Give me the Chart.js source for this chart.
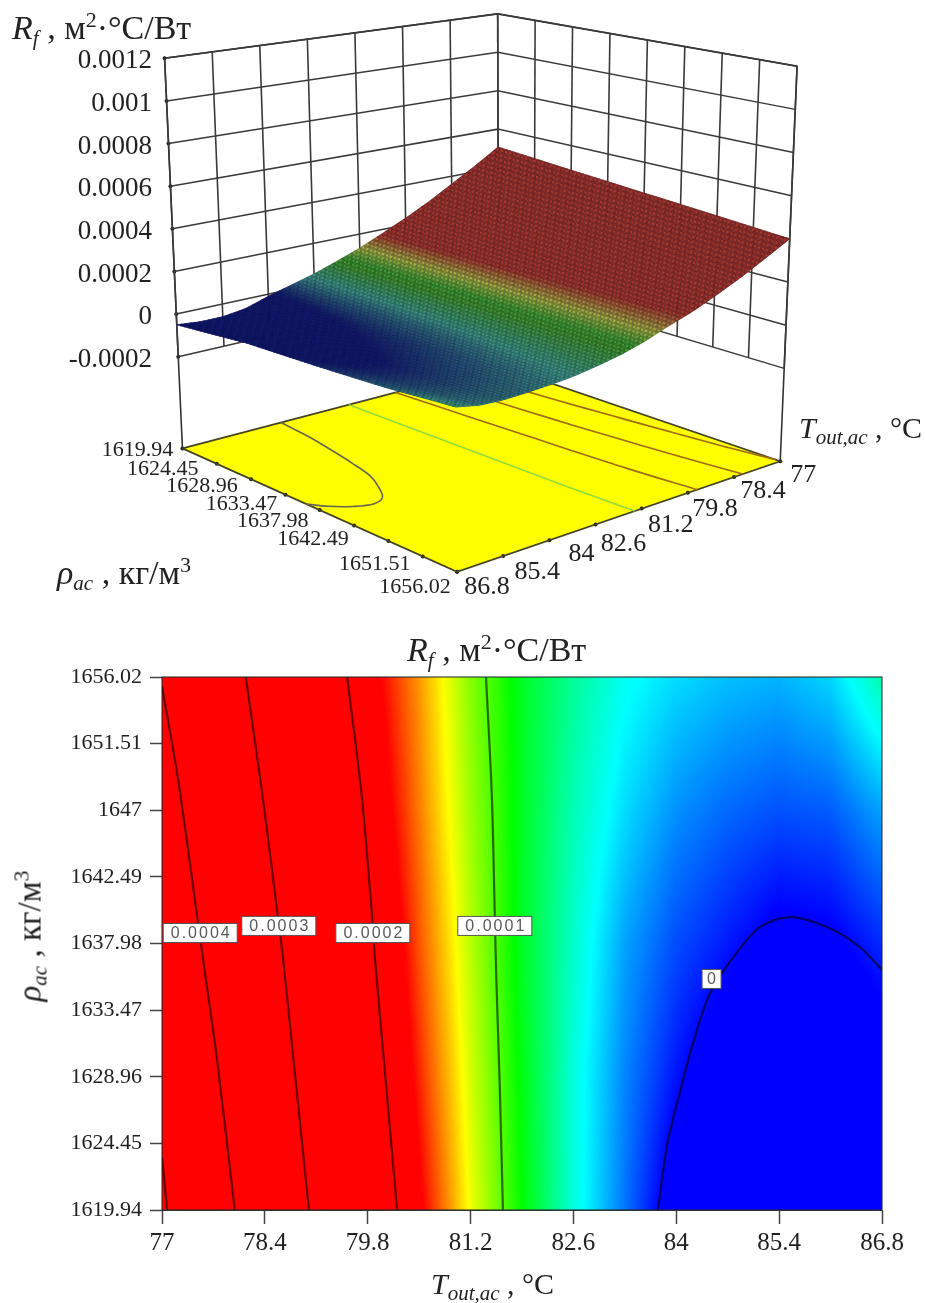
<!DOCTYPE html>
<html>
<head>
<meta charset="utf-8">
<script src="https://cdn.jsdelivr.net/npm/chart.js@4/dist/chart.umd.min.js"></script>
<style>
  html, body { margin: 0; padding: 0; background: #fff; }
  #page { position: relative; width: 925px; height: 1303px; overflow: hidden; font-family: "Liberation Serif", serif; color: #222; }
  canvas { position: absolute; left: 0; }
  #c3d { top: 0; }
  #cmap { top: 640px; }
  .lbl { position: absolute; white-space: nowrap; font-size: 34px; line-height: 1; }
  .lbl i { font-style: italic; }
  .lbl sub { font-size: 21px; line-height: 0; font-style: italic; vertical-align: -6px; }
  .lbl sup { font-size: 22px; line-height: 0; vertical-align: 12px; }
</style>
</head>
<body>
<div id="page">
  <canvas id="c3d" width="925" height="640"></canvas>
  <canvas id="cmap" width="925" height="663"></canvas>
  <div class="lbl" style="left:12px;top:11px"><i>R</i><sub>f</sub> , м<sup>2</sup>·°C/Вт</div>
  <div class="lbl" style="left:799px;top:413px;font-size:30px"><i>T</i><sub>out,ac</sub> , °C</div>
  <div class="lbl" style="left:57px;top:556px"><i>ρ</i><sub>ac</sub> , кг/м<sup>3</sup></div>
  <div class="lbl" style="left:407px;top:633px"><i>R</i><sub>f</sub> , м<sup>2</sup>·°C/Вт</div>
  <div class="lbl" style="left:431px;top:1269px;font-size:30px"><i>T</i><sub>out,ac</sub> , °C</div>
  <div class="lbl" style="left:30px;top:936px;font-size:33px;transform:translate(-50%,-50%) rotate(-90deg)"><i>ρ</i><sub>ac</sub> , кг/м<sup>3</sup></div>
</div>
<script>
// axes
var tempTicks = [77, 78.4, 79.8, 81.2, 82.6, 84, 85.4, 86.8];
var rhoTicks = [1619.94, 1624.45, 1628.96, 1633.47, 1637.98, 1642.49, 1647, 1651.51, 1656.02];
var zTicks = [-0.0002, 0, 0.0002, 0.0004, 0.0006, 0.0008, 0.001, 0.0012];
var rhoLabels3d = [1619.94, 1624.45, 1628.96, 1633.47, 1637.98, 1642.49, 1651.51, 1656.02];
var zBottom = -0.00063, zTop = 0.0012;

// Rf, one array per density row
var gridTemp = [77, 77.7, 78.4, 79.1, 79.8, 80.5, 81.2, 81.9, 82.6, 83.3, 84, 84.7, 85.4, 86.1, 86.8];
var gridRho = [1619.94, 1628.96, 1637.98, 1647, 1656.02];
var rf1619 = [0.000507, 0.00043, 0.00036, 0.000292, 0.000233, 0.00018, 0.00013, 0.000088, 0.00005, 0.00002, -0.00001, -0.000045, -0.00006, -0.00006, -0.00005];
var rf1628 = [0.000477, 0.000407, 0.00034, 0.000278, 0.00022, 0.00017, 0.000125, 0.000085, 0.00005, 0.000023, 0.000003, -0.000012, -0.000022, -0.00002, -0.00001];
var rf1637 = [0.00045, 0.000387, 0.00032, 0.000263, 0.000208, 0.000162, 0.00012, 0.000082, 0.000053, 0.000028, 0.000013, 0.000004, -0.000005, -0.000003, 0.000007];
var rf1647 = [0.000425, 0.00036, 0.0003, 0.000246, 0.000195, 0.000155, 0.000115, 0.000082, 0.000057, 0.000038, 0.000025, 0.000018, 0.000014, 0.000016, 0.000028];
var rf1656 = [0.0004, 0.000339, 0.000281, 0.000231, 0.000185, 0.00015, 0.000111, 0.000082, 0.000062, 0.000046, 0.000038, 0.000033, 0.000031, 0.000037, 0.000058];
var gridRows = [rf1619, rf1628, rf1637, rf1647, rf1656];

// contour lines
var c5T = [77, 77.07], c5R = [1623.53, 1619.94];
var c4T = [77, 77.22, 77.48, 77.56, 77.75, 77.99], c4R = [1655.4, 1649.05, 1639.77, 1636.86, 1630.09, 1619.94];
var c3T = [78.14, 78.37, 78.57, 78.65, 78.78, 79], c3R = [1656.02, 1647.9, 1640.05, 1636.86, 1630.57, 1619.94];
var c2T = [79.52, 79.72, 79.86, 79.9, 80.04, 80.2], c2R = [1656.02, 1647.9, 1639.77, 1636.86, 1628.94, 1619.94];
var c1T = [81.41, 81.49, 81.53, 81.55, 81.6, 81.64], c1R = [1656.02, 1647.9, 1639.77, 1635.71, 1627.86, 1619.94];
var c0T = [83.75, 83.87, 84.01, 84.23, 84.46, 84.77, 85.14, 85.55, 86.05, 86.5, 86.8];
var c0R = [1619.94, 1624.2, 1627.18, 1631.25, 1634.63, 1637, 1639.1, 1639.77, 1639.1, 1637.74, 1636.19];
var contourT = [c5T, c4T, c3T, c2T, c1T, c0T];
var contourR = [c5R, c4R, c3R, c2R, c1R, c0R];
var baseContourColors = ['#a06a10', '#a06a10', '#a06a10', '#a06a10', '#8fdc3c', '#666650'];

var labelText = ['0.0004', '0.0003', '0.0002', '0.0001', '0'];
var labelT = [77.52, 78.59, 79.87, 81.53, 84.48];
var labelR = [1638.69, 1639.17, 1638.69, 1639.17, 1635.58];

// where the upper chart's tick labels sit relative to their ticks
var rhoNudgeX = [-45, -54, -49, -44, -47, -41, -48, -42];
var rhoNudgeY = [2, 5, 7, 10, 11, 14, 8, 15];
var tempNudgeX = [23, 29, 27, 29, 28, 32, 34, 30];
var tempNudgeY = [14, 14, 16, 17, 20, 14, 16, 15];

var SERIF = '"Liberation Serif", serif';

function zip(xs, ys) {
    return xs.map(function (x, i) { return { x: x, y: ys[i] }; });
}

// bilinear shading between the values
function rfAt(t, r) {
    var i = 0, j = 0;
    while (i < gridTemp.length - 2 && t > gridTemp[i + 1]) i++;
    while (j < gridRho.length - 2 && r > gridRho[j + 1]) j++;
    var a = (t - gridTemp[i]) / (gridTemp[i + 1] - gridTemp[i]);
    var b = (r - gridRho[j]) / (gridRho[j + 1] - gridRho[j]);
    var lo = gridRows[j][i] * (1 - a) + gridRows[j][i + 1] * a;
    var hi = gridRows[j + 1][i] * (1 - a) + gridRows[j + 1][i + 1] * a;
    return lo * (1 - b) + hi * b;
}

// blue 0, cyan, green, yellow, red at 0.000176
var rampStops = [[0, 0, 255], [0, 255, 255], [0, 255, 0], [255, 255, 0], [255, 0, 0]];
function rainbow(v) {
    var s = Math.max(0, Math.min(0.999, v / 0.000176)) * 4;
    var k = Math.floor(s), f = s - k;
    var p = rampStops[k], q = rampStops[k + 1];
    return [p[0] + (q[0] - p[0]) * f, p[1] + (q[1] - p[1]) * f, p[2] + (q[2] - p[2]) * f];
}

// camera: base and top planes of the box, z goes linearly between them
function planeOf(q) {
    return function (u, v) {
        var out = [0, 0];
        for (var n = 0; n < 2; n++) {
            out[n] = (q[0][n] * (1 - u) + q[1][n] * u) * (1 - v) + (q[3][n] * (1 - u) + q[2][n] * u) * v;
        }
        return out;
    };
}
var basePlane = planeOf([[180, 450], [499, 366], [783, 463], [457, 575]]);
var topPlane = planeOf([[162, 55], [498, 10], [800, 63], [454, 131]]);

function project(t, r, z) {
    var u = (86.8 - t) / 9.8, v = (r - 1619.94) / 36.08;
    var b = basePlane(u, v), a = topPlane(u, v);
    var k = (z - zBottom) / (zTop - zBottom);
    return { x: b[0] + (a[0] - b[0]) * k, y: b[1] + (a[1] - b[1]) * k };
}

function line3d(pts, color, width, tension) {
    return {
        data: pts, showLine: true, pointRadius: 0, borderColor: color,
        borderWidth: width, tension: tension || 0, parsing: false
    };
}

// walls, floor edges, floor contours
var sets3d = [];
var WALL = '#3a3a3a';
zTicks.forEach(function (z) {
    sets3d.push(line3d([project(86.8, 1619.94, z), project(77, 1619.94, z), project(77, 1656.02, z)], WALL, 1.5));
});
var wallTemp = tempTicks.slice().reverse();
wallTemp.forEach(function (t) {
    sets3d.push(line3d([project(t, 1619.94, -0.0002), project(t, 1619.94, zTop)], WALL, 1.6));
});
rhoTicks.forEach(function (r) {
    sets3d.push(line3d([project(77, r, -0.0002), project(77, r, zTop)], WALL, 1.6));
});
sets3d.push(line3d([project(86.8, 1619.94, zBottom), project(86.8, 1619.94, zTop), project(77, 1619.94, zTop), project(77, 1656.02, zTop), project(77, 1656.02, zBottom)], '#333', 1.6));
contourT.forEach(function (ct, i) {
    var pts = ct.map(function (t, k) { return project(t, contourR[i][k], zBottom); });
    sets3d.push(line3d(pts, baseContourColors[i], 1.6, 0.35));
});
sets3d.push(line3d([project(86.8, 1619.94, zBottom), project(77, 1619.94, zBottom), project(77, 1656.02, zBottom), project(86.8, 1656.02, zBottom), project(86.8, 1619.94, zBottom)], '#444420', 1.7));
// tick dots
var dots = [];
zTicks.forEach(function (z) { dots.push(project(86.8, 1619.94, z)); });
tempTicks.forEach(function (t) { dots.push(project(t, 1656.02, zBottom)); });
rhoTicks.forEach(function (r) { dots.push(project(86.8, r, zBottom)); });
sets3d.push({ data: dots, pointRadius: 2, pointBackgroundColor: '#1c1c1c', pointBorderWidth: 0, parsing: false });

function css(r, g, b) {
    return 'rgb(' + (r | 0) + ',' + (g | 0) + ',' + (b | 0) + ')';
}

var box3dPlugin = {
    id: 'box3d',
    beforeDatasetsDraw: function (chart) {
        var ctx = chart.ctx, sx = chart.scales.x, sy = chart.scales.y;
        var corners = [project(86.8, 1619.94, zBottom), project(77, 1619.94, zBottom), project(77, 1656.02, zBottom), project(86.8, 1656.02, zBottom)];
        ctx.save();
        ctx.fillStyle = '#ffff00';
        ctx.beginPath();
        corners.forEach(function (p, i) {
            var px = sx.getPixelForValue(p.x), py = sy.getPixelForValue(p.y);
            if (i === 0) ctx.moveTo(px, py); else ctx.lineTo(px, py);
        });
        ctx.closePath();
        ctx.fill();
        ctx.restore();
    },
    afterDatasetsDraw: function (chart) {
        var ctx = chart.ctx, sx = chart.scales.x, sy = chart.scales.y;
        var N = 72;
        function node(i, j) {
            var t = 86.8 - 9.8 * i / N, r = 1619.94 + 36.08 * j / N;
            var p = project(t, r, rfAt(t, r));
            return [sx.getPixelForValue(p.x), sy.getPixelForValue(p.y)];
        }
        ctx.save();
        // surface mesh, dark cell with a lighter dot in it
        for (var i = 0; i < N; i++) {
            for (var j = 0; j < N; j++) {
                var a = node(i, j), b = node(i + 1, j), c = node(i + 1, j + 1), d = node(i, j + 1);
                var t = 86.8 - 9.8 * (i + 0.5) / N, r = 1619.94 + 36.08 * (j + 0.5) / N;
                var col = rainbow(rfAt(t, r));
                var k = (i + j) % 2 ? 0.92 : 1.06;
                var dark = css(
                    Math.max(col[0] * 0.42 + 15, col[1] * 0.12 + 15) * k,
                    (col[1] * 0.36 + 18 + col[0] * 0.08) * k,
                    (col[2] * 0.3 + 18 + col[0] * 0.08 + col[1] * 0.06) * k);
                ctx.fillStyle = dark;
                ctx.strokeStyle = dark;
                ctx.lineWidth = 0.8;
                ctx.beginPath();
                ctx.moveTo(a[0], a[1]); ctx.lineTo(b[0], b[1]); ctx.lineTo(c[0], c[1]); ctx.lineTo(d[0], d[1]);
                ctx.closePath();
                ctx.fill();
                ctx.stroke();
                var mx = (a[0] + c[0]) / 2, my = (a[1] + c[1]) / 2;
                ctx.fillStyle = css(
                    Math.max(col[0] * 0.62 + 12, col[1] * 0.2 + 12),
                    col[1] * 0.5 + 26 + col[0] * 0.12,
                    col[2] * 0.28 + 26 + col[0] * 0.08 + col[1] * 0.1);
                ctx.fillRect(mx - 1, my - 1, 2, 2);
            }
        }
        // tick labels
        ctx.fillStyle = '#222';
        ctx.textBaseline = 'middle';
        ctx.font = '27px ' + SERIF;
        ctx.textAlign = 'right';
        zTicks.forEach(function (z) {
            var p = project(86.8, 1619.94, z);
            ctx.fillText(String(z), 152, sy.getPixelForValue(p.y) + 3);
        });
        ctx.font = '26px ' + SERIF;
        ctx.textAlign = 'center';
        tempTicks.forEach(function (t, n) {
            var p = project(t, 1656.02, zBottom);
            ctx.fillText(String(t), sx.getPixelForValue(p.x) + tempNudgeX[n], sy.getPixelForValue(p.y) + tempNudgeY[n]);
        });
        ctx.font = '22px ' + SERIF;
        rhoLabels3d.forEach(function (r, n) {
            var p = project(86.8, r, zBottom);
            ctx.fillText(String(r), sx.getPixelForValue(p.x) + rhoNudgeX[n], sy.getPixelForValue(p.y) + rhoNudgeY[n]);
        });
        ctx.restore();
    }
};

new Chart(document.getElementById('c3d'), {
    type: 'scatter',
    data: { datasets: sets3d },
    options: {
        responsive: false,
        animation: false,
        layout: { padding: 0 },
        plugins: { legend: { display: false }, tooltip: { enabled: false } },
        scales: {
            x: { type: 'linear', display: false, min: 0, max: 925 },
            y: { type: 'linear', display: false, min: 0, max: 640, reverse: true }
        }
    },
    plugins: [box3dPlugin]
});

// lower map
var mapPlugin = {
    id: 'map',
    beforeDatasetsDraw: function (chart) {
        var ctx = chart.ctx, a = chart.chartArea, sx = chart.scales.x, sy = chart.scales.y;
        var L = Math.round(a.left), T = Math.round(a.top), w = Math.round(a.right) - L, h = Math.round(a.bottom) - T;
        var img = ctx.createImageData(w, h);
        for (var py = 0; py < h; py++) {
            var r = sy.getValueForPixel(T + py + 0.5);
            for (var px = 0; px < w; px++) {
                var c = rainbow(rfAt(sx.getValueForPixel(L + px + 0.5), r));
                var o = (py * w + px) * 4;
                img.data[o] = c[0]; img.data[o + 1] = c[1]; img.data[o + 2] = c[2]; img.data[o + 3] = 255;
            }
        }
        ctx.putImageData(img, L, T);
    },
    afterDatasetsDraw: function (chart) {
        var ctx = chart.ctx, a = chart.chartArea, sx = chart.scales.x, sy = chart.scales.y;
        ctx.save();
        ctx.strokeStyle = 'rgba(30,40,40,0.85)';
        ctx.lineWidth = 1.2;
        ctx.strokeRect(a.left, a.top, a.right - a.left, a.bottom - a.top);
        ctx.font = '16px "Liberation Sans", sans-serif';
        ctx.letterSpacing = '2px';
        ctx.textAlign = 'center';
        ctx.textBaseline = 'middle';
        labelText.forEach(function (s, i) {
            var px = sx.getPixelForValue(labelT[i]), py = sy.getPixelForValue(labelR[i]);
            var bw = s.length > 1 ? 74 : 19;
            ctx.fillStyle = '#fff';
            ctx.strokeStyle = '#555';
            ctx.lineWidth = 1;
            ctx.fillRect(px - bw / 2, py - 9.5, bw, 19);
            ctx.strokeRect(px - bw / 2, py - 9.5, bw, 19);
            ctx.fillStyle = '#5a5a5a';
            ctx.fillText(s, px + 1, py + 0.5);
        });
        ctx.restore();
    }
};

var mapSets = contourT.map(function (ct, i) {
    return {
        data: zip(ct, contourR[i]), showLine: true, pointRadius: 0,
        borderColor: 'rgba(0,0,0,0.58)', borderWidth: 2.2, tension: 0.3
    };
});

new Chart(document.getElementById('cmap'), {
    type: 'scatter',
    data: { datasets: mapSets },
    options: {
        responsive: false,
        animation: false,
        layout: { padding: { top: 37, right: 43, left: 0, bottom: 0 } },
        plugins: { legend: { display: false }, tooltip: { enabled: false } },
        scales: {
            x: {
                type: 'linear', min: 77, max: 86.8,
                afterBuildTicks: function (scale) { scale.ticks = tempTicks.map(function (v) { return { value: v }; }); },
                afterFit: function (scale) { scale.height = 93; },
                grid: { drawOnChartArea: false, tickLength: 14, tickColor: '#444', tickWidth: 1.5 },
                border: { color: '#444' },
                ticks: {
                    color: '#222', font: { family: 'Liberation Serif', size: 25 }, padding: 4,
                    autoSkip: false, maxRotation: 0,
                    callback: function (v) { return String(v); }
                }
            },
            y: {
                type: 'linear', min: 1619.94, max: 1656.02,
                afterBuildTicks: function (scale) { scale.ticks = rhoTicks.map(function (v) { return { value: v }; }); },
                afterFit: function (scale) { scale.width = 162; },
                grid: { drawOnChartArea: false, tickLength: 12, tickColor: '#444', tickWidth: 1.5 },
                border: { color: '#444' },
                ticks: {
                    color: '#222', font: { family: 'Liberation Serif', size: 22 }, padding: 8,
                    autoSkip: false,
                    callback: function (v) { return String(v); }
                }
            }
        }
    },
    plugins: [mapPlugin]
});
</script>
</body>
</html>
